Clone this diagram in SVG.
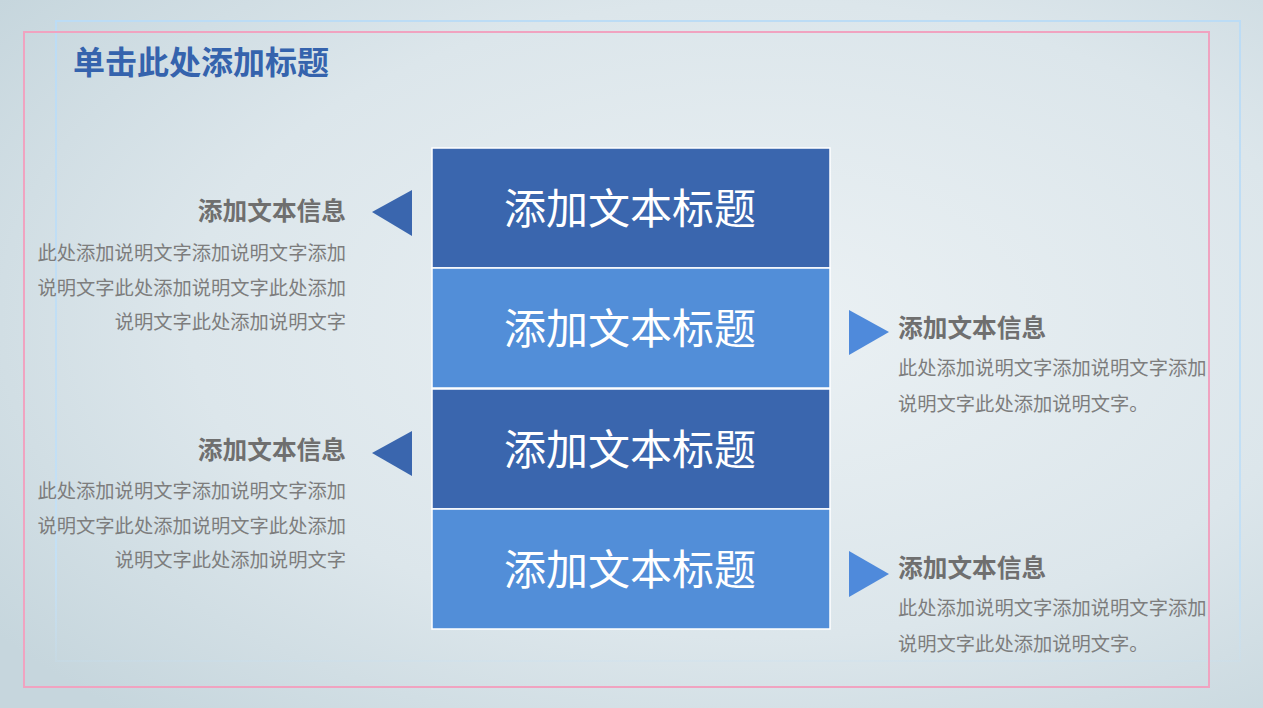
<svg xmlns="http://www.w3.org/2000/svg" width="1263" height="708" viewBox="0 0 1263 708">
<defs>
<radialGradient id="bg" cx="0.6" cy="0.45" r="0.75">
<stop offset="0" stop-color="#ebf1f4"/>
<stop offset="0.6" stop-color="#dce6eb"/>
<stop offset="1" stop-color="#c6d6dd"/>
</radialGradient>
<linearGradient id="blueFrame" x1="0" y1="0" x2="0" y2="1">
<stop offset="0" stop-color="#bcdcf5"/>
<stop offset="0.85" stop-color="#c4e0f5"/>
<stop offset="1" stop-color="#c4e0f5" stop-opacity="0.2"/>
</linearGradient>
<style>
.dark{fill:#3a66ae;stroke:#ffffff;stroke-width:1.5}
.light{fill:#528ed8;stroke:#ffffff;stroke-width:1.5}
.boxt{font-family:"Noto Sans CJK SC","Noto Sans",sans-serif;font-size:42px;fill:#ffffff;text-anchor:middle;dominant-baseline:central}
.head{font-family:"Noto Sans CJK SC","Noto Sans",sans-serif;font-size:24.7px;font-weight:bold;fill:#6f6f6f;dominant-baseline:central}
.body{font-family:"Noto Sans CJK SC","Noto Sans",sans-serif;font-size:19.3px;fill:#7d7d7d;dominant-baseline:central}
.r{text-anchor:end}
</style>
</defs>
<rect width="1263" height="708" fill="url(#bg)"/>
<g id="frames" fill="none">
<rect x="56" y="21" width="1184" height="640" stroke="url(#blueFrame)" stroke-width="2"/>
<rect x="24" y="32" width="1185" height="655" stroke="#f0a3c0" stroke-width="2"/>
</g>
<text id="title" x="73" y="60" font-family="'Noto Sans CJK SC',sans-serif" font-size="32" font-weight="bold" fill="#3563ad" dominant-baseline="central">单击此处添加标题</text>
<g id="box1"><rect class="dark" x="432" y="148" width="398" height="120"/><text class="boxt" x="630" y="205">添加文本标题</text></g>
<g id="box2"><rect class="light" x="432" y="268" width="398" height="120"/><text class="boxt" x="630" y="325">添加文本标题</text></g>
<g id="box3"><rect class="dark" x="432" y="389" width="398" height="120"/><text class="boxt" x="630" y="446">添加文本标题</text></g>
<g id="box4"><rect class="light" x="432" y="509" width="398" height="120"/><text class="boxt" x="630" y="566">添加文本标题</text></g>
<g id="connectors">
<polygon points="372,212 412,190 412,236" fill="#3a66ae"/>
<polygon points="372,453 412,431 412,476" fill="#3a66ae"/>
<polygon points="889,332 849,310 849,355" fill="#4f8adb"/>
<polygon points="889,574 849,551 849,597" fill="#4f8adb"/>
</g>
<g id="info1">
<text class="head r" x="346" y="209">添加文本信息</text>
<text class="body r" x="346" y="252">此处添加说明文字添加说明文字添加</text>
<text class="body r" x="346" y="287">说明文字此处添加说明文字此处添加</text>
<text class="body r" x="346" y="321">说明文字此处添加说明文字</text>
</g>
<g id="info2">
<text class="head" x="898" y="326">添加文本信息</text>
<text class="body" x="898" y="367">此处添加说明文字添加说明文字添加</text>
<text class="body" x="898" y="403">说明文字此处添加说明文字。</text>
</g>
<g id="info3">
<text class="head r" x="346" y="448">添加文本信息</text>
<text class="body r" x="346" y="490">此处添加说明文字添加说明文字添加</text>
<text class="body r" x="346" y="525">说明文字此处添加说明文字此处添加</text>
<text class="body r" x="346" y="559">说明文字此处添加说明文字</text>
</g>
<g id="info4">
<text class="head" x="898" y="566">添加文本信息</text>
<text class="body" x="898" y="607">此处添加说明文字添加说明文字添加</text>
<text class="body" x="898" y="643">说明文字此处添加说明文字。</text>
</g>
</svg>
